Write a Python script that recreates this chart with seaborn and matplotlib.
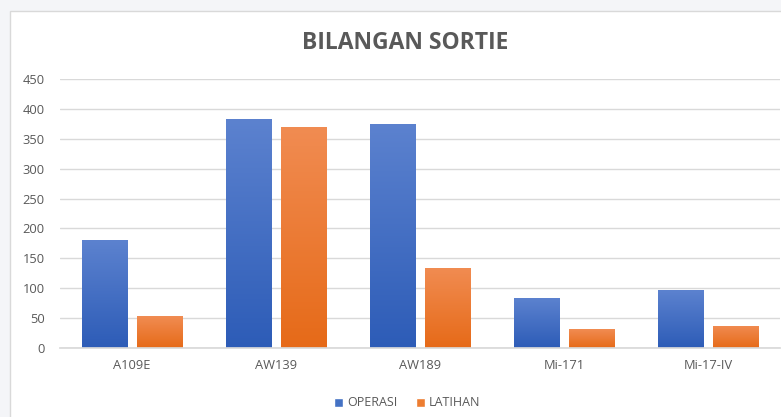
import numpy as np
import pandas as pd
import matplotlib
matplotlib.use("Agg")
import matplotlib.pyplot as plt
import seaborn as sns
from matplotlib.patches import Rectangle
from matplotlib.colors import LinearSegmentedColormap

# Chart values
aircraft = ["A109E", "AW139", "AW189", "Mi-171", "Mi-17-IV"]
operasi = [180, 383, 375, 83, 97]
latihan = [53, 370, 134, 31, 37]
series = ["OPERASI", "LATIHAN"]
colors = ["#4472C4", "#ED7D31"]
yticks = [0, 50, 100, 150, 200, 250, 300, 350, 400, 450]

# bar gradients (bottom -> top), Excel style
gradients = [("#2d5cb7", "#5c82cf"), ("#e66a18", "#f18c52")]

df = pd.DataFrame({
    "pesawat": aircraft * 2,
    "jenis": [series[0]] * len(aircraft) + [series[1]] * len(aircraft),
    "sortie": operasi + latihan,
})

sns.set_theme(style="white")
plt.rcParams["font.family"] = ["Open Sans", "DejaVu Sans"]

fig = plt.figure(figsize=(7.81, 4.17), dpi=100, facecolor="#f4f5f8")
# white chart area with thin border
fig.patches.append(Rectangle((10 / 781, -0.01), 1, 1 - 11 / 417 + 0.01,
                             transform=fig.transFigure, facecolor="white",
                             edgecolor="#d9d9d9", linewidth=1, zorder=-10))

ax = fig.add_axes([60 / 781, 1 - 348 / 417, (780 - 60) / 781, (348 - 79) / 417])
ax.set_facecolor("none")

sns.barplot(data=df, x="pesawat", y="sortie", hue="jenis", palette=colors,
            width=0.764, gap=0.18, saturation=1, ax=ax, legend=True)

# gradient fill clipped to each bar
ramp = np.linspace(0, 1, 256).reshape(-1, 1)
for container, (lo, hi) in zip(ax.containers, gradients):
    cmap = LinearSegmentedColormap.from_list("g", [lo, hi])
    for bar in container:
        x, w, h = bar.get_x(), bar.get_width(), bar.get_height()
        bar.set_edgecolor("none")
        im = ax.imshow(ramp, extent=[x, x + w, 0, h], origin="lower", cmap=cmap,
                       aspect="auto", zorder=bar.get_zorder() + 0.1, interpolation="bilinear")
        im.set_clip_path(bar)

ax.set_ylim(0, 450)
ax.set_yticks(yticks)
ax.set_xlim(-0.5, len(aircraft) - 0.5)
ax.yaxis.grid(True, color="#d9d9d9", linewidth=1)
ax.set_axisbelow(True)
for s in ["top", "right", "left"]:
    ax.spines[s].set_visible(False)
ax.spines["bottom"].set_color("#d9d9d9")
ax.tick_params(axis="both", length=0, labelsize=9.3, labelcolor="#595959")
ax.tick_params(axis="y", pad=11)
ax.tick_params(axis="x", pad=8)
ax.set_xlabel("")
ax.set_ylabel("")

fig.text(405 / 781, 1 - 43 / 417, "BILANGAN SORTIE", ha="center", va="center",
         fontsize=16.5, fontweight="bold", color="#595959")

handles, labels = ax.get_legend_handles_labels()
ax.legend(handles, labels, loc="center", bbox_to_anchor=(407 / 781, 1 - 403 / 417),
          bbox_transform=fig.transFigure, ncol=2, frameon=False, fontsize=9,
          labelcolor="#595959", handlelength=0.7, handleheight=0.7,
          handletextpad=0.3, columnspacing=1.5)

fig.savefig("out.png", dpi=100, facecolor=fig.get_facecolor())
